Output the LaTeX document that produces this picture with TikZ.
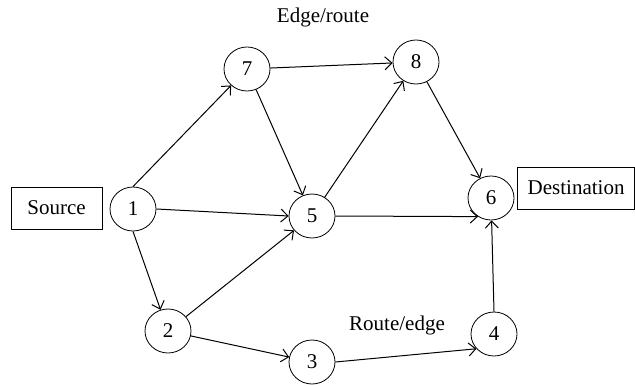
\documentclass[tikz,border=0pt]{standalone}
\usepackage{fontspec}
\setmainfont{Liberation Serif}
\usepackage{tikz}
\usetikzlibrary{shapes.geometric,arrows.meta}

\begin{document}
\begin{tikzpicture}[x=0.5pt,y=-0.5pt,
	vert/.style={draw,ellipse,minimum width=23pt,minimum height=22pt,inner sep=0pt,font=\fontsize{10.5}{12}\selectfont},
	tag/.style={draw,minimum height=21pt,inner sep=2pt,font=\fontsize{10.5}{12}\selectfont},
	edge/.style={-{Straight Barb[length=3.5pt,width=6.5pt]},line width=0.5pt}]
			\useasboundingbox (0,0) rectangle (635,385);
			% vertices
			\node[vert] (n1) at (133,209) {1};
			\node[vert] (n2) at (168,331) {2};
			\node[vert] (n3) at (312,362) {3};
			\node[vert] (n4) at (494,334) {4};
			\node[vert] (n5) at (312,216) {5};
			\node[vert] (n6) at (491,198) {6};
			\node[vert] (n7) at (247,69) {7};
			\node[vert] (n8) at (416,62) {8};
			% source and destination
			\node[tag,minimum width=45.5pt] (src) at (56.5,208) {Source};
			\node[tag,minimum width=58.5pt,anchor=east] (dst) at (635,188) {Destination};
			% edges
			\draw[edge] (n1.north) -- (n7);
			\draw[edge] (n1.east) -- (n5.west);
			\draw[edge] (n1.south) -- (n2);
			\draw[edge] (n7) -- (n8);
			\draw[edge] (n7) -- (n5);
			\draw[edge] (n5) -- (n8);
			\draw[edge] (n8) -- (n6);
			\draw[edge] (n5.east) -- (n6.-125);
			\draw[edge] (n2) -- (n5);
			\draw[edge] (n2) -- (n3);
			\draw[edge] (n3.east) -- (n4.-140);
			\draw[edge] (n4.north) -- (n6);
			% label
			\node[font=\fontsize{10.5}{12}\selectfont] (lab1) at (323,17) {Edge/route};
			\node[font=\fontsize{10.5}{12}\selectfont] (lab2) at (397,325) {Route/edge};
		\end{tikzpicture}
\end{document}
